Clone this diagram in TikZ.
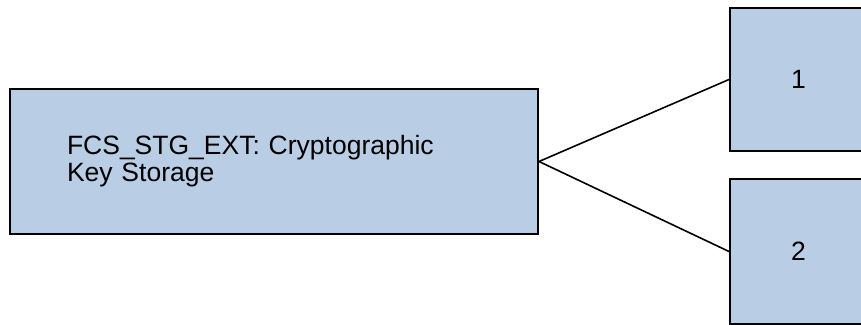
\documentclass[tikz,border=0pt]{standalone}
\usepackage{fontspec}
\setmainfont{Liberation Sans}
\definecolor{boxfill}{HTML}{B9CDE5}
\begin{document}
\begin{tikzpicture}[x=1pt,y=-1pt,
  box/.style={draw=black, line width=2pt, fill=boxfill, rectangle},
  conn/.style={draw=black, line width=1.6pt},
  font=\fontsize{26.5}{27}\selectfont]
\useasboundingbox (0,0) rectangle (861,324);
\begin{scope}
\clip (0,0) rectangle (861,324);
\node[box, anchor=north west, text width=414pt, align=left, inner xsep=57pt,
      minimum height=145pt] (main) at (9,88) {FCS\_STG\_EXT: Cryptographic\\Key Storage};
\node[box, anchor=north west, minimum width=137pt, minimum height=143pt] (one) at (729,7) {1};
\node[box, anchor=north west, minimum width=137pt, minimum height=145pt] (two) at (729,178) {2};
\draw[conn] (main.east) -- (one.west);
\draw[conn] (main.east) -- (two.west);
\end{scope}
\end{tikzpicture}
\end{document}
